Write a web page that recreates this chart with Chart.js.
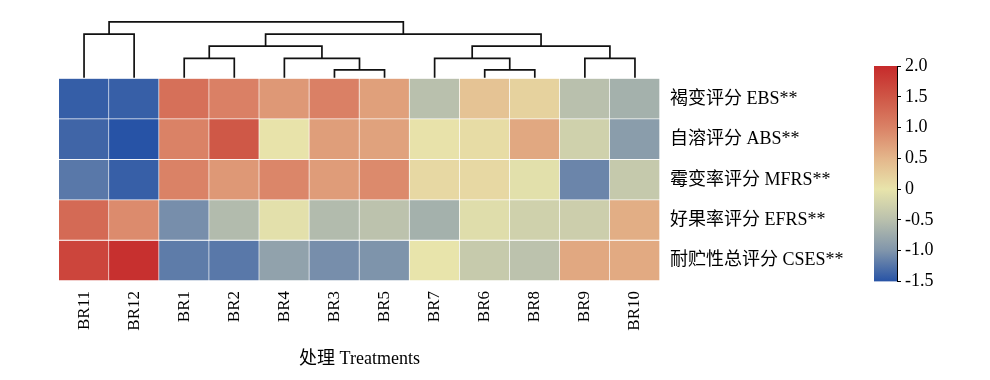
<!DOCTYPE html>
<html>
<head>
<meta charset="utf-8">
<script src="https://cdn.jsdelivr.net/npm/chart.js@4/dist/chart.umd.min.js"></script>
<style>
  html, body { margin: 0; padding: 0; background: #fff; }
  #wrap { position: relative; width: 990px; height: 380px; }
  #main { position: absolute; left: 0; top: 0; }
  #bar { position: absolute; left: 860px; top: 0; }
</style>
</head>
<body>
<div id="wrap">
  <canvas id="main" width="860" height="380"></canvas>
  <canvas id="bar" width="130" height="380"></canvas>
</div>
<script>
// ---- data ----
const columns = ['BR11', 'BR12', 'BR1', 'BR2', 'BR4', 'BR3', 'BR5', 'BR7', 'BR6', 'BR8', 'BR9', 'BR10'];
const rowNames = ['褐变评分 EBS**', '自溶评分 ABS**', '霉变率评分 MFRS**', '好果率评分 EFRS**', '耐贮性总评分 CSES**'];
const EBS  = [-1.42, -1.41, 1.20, 1.02, 0.79, 1.02, 0.71, -0.50, 0.36, 0.20, -0.50, -0.68];
const ABS  = [-1.36, -1.50, 1.00, 1.48, 0.01, 0.73, 0.69, 0.02, 0.09, 0.63, -0.27, -0.91];
const MFRS = [-1.22, -1.41, 1.00, 0.79, 0.96, 0.75, 0.92, 0.13, 0.13, -0.06, -1.12, -0.37];
const EFRS = [1.27, 0.91, -1.05, -0.56, -0.05, -0.56, -0.47, -0.68, -0.10, -0.27, -0.30, 0.58];
const CSES = [1.69, 1.93, -1.19, -1.22, -0.85, -1.05, -1.01, 0.00, -0.36, -0.47, 0.63, 0.62];
const rows = [EBS, ABS, MFRS, EFRS, CSES];
// dendrogram merges: [left child, right child, height]; child = leaf name or earlier merge index
const merges = [
  ['BR3', 'BR5', 7.7],
  ['BR6', 'BR8', 7.7],
  ['BR1', 'BR2', 19.3],
  ['BR4', 0, 19.3],
  ['BR7', 1, 19.3],
  ['BR9', 'BR10', 19.3],
  [2, 3, 31.5],
  [4, 5, 31.5],
  ['BR11', 'BR12', 43.7],
  [6, 7, 43.7],
  [8, 9, 56.0]
];
const colorbarTicks = [2.0, 1.5, 1.0, 0.5, 0, -0.5, -1.0, -1.5];
const colorStops = [
  [-1.5, '#2753a6'], [-1.0, '#8095ab'], [-0.5, '#b9c0ad'], [0.0, '#e8e4ab'],
  [0.5, '#e4b68b'], [1.0, '#da8266'], [1.5, '#cf5646'], [2.0, '#c62a2b']
];
const vMin = -1.5, vMax = 2.0;

// ---- helpers ----
function hex(c) { return [1, 3, 5].map(i => parseInt(c.substr(i, 2), 16)); }
function colorFor(v) {
  v = Math.max(vMin, Math.min(vMax, v));
  for (let i = 0; i < colorStops.length - 1; i++) {
    const [a, ca] = colorStops[i], [b, cb] = colorStops[i + 1];
    if (v >= a && v <= b) {
      const t = (v - a) / (b - a);
      const A = hex(ca), B = hex(cb);
      const m = A.map((x, k) => Math.round(x + (B[k] - x) * t));
      return 'rgb(' + m.join(',') + ')';
    }
  }
  return colorStops[colorStops.length - 1][1];
}

const FONT = "'Liberation Serif', 'Noto Sans CJK SC', serif";
Chart.defaults.color = '#000';
Chart.defaults.font.family = FONT;

// heatmap datasets
const datasets = rows.map((vals, r) => ({
  type: 'bar',
  label: rowNames[r],
  yAxisID: 'y',
  data: vals.map((v, i) => ({ x: i, y: [r, r + 1] })),
  backgroundColor: vals.map(colorFor),
  borderColor: 'rgba(255,255,255,0.85)',
  borderWidth: { top: 0, left: 0, right: 1, bottom: 1 },
  borderSkipped: false,
  barPercentage: 1,
  categoryPercentage: 1,
  grouped: false,
  order: 2
}));

// dendrogram datasets
const mPos = [];
function childPos(c) { return typeof c === 'string' ? columns.indexOf(c) : mPos[c]; }
function childH(c) { return typeof c === 'string' ? 0 : merges[c][2]; }
merges.forEach(([a, b, h], k) => {
  const xa = childPos(a), xb = childPos(b);
  mPos[k] = (xa + xb) / 2;
  datasets.push({
    type: 'line',
    yAxisID: 'yd',
    data: [{ x: xa, y: childH(a) }, { x: xa, y: h }, { x: xb, y: h }, { x: xb, y: childH(b) }],
    borderColor: '#111',
    borderWidth: 1.7,
    pointRadius: 0,
    tension: 0,
    fill: false,
    clip: false,
    order: 1
  });
});

new Chart(document.getElementById('main'), {
  type: 'bar',
  data: { datasets },
  options: {
    responsive: false,
    animation: false,
    devicePixelRatio: 1,
    layout: { padding: { left: 59, top: 20, right: 0, bottom: 0 } },
    plugins: { legend: { display: false }, tooltip: { enabled: false } },
    scales: {
      yd: {
        type: 'linear', position: 'right', stack: 'rows', stackWeight: 58, weight: 0,
        min: -1, max: 57, display: false
      },
      y: {
        type: 'linear', position: 'right', stack: 'rows', stackWeight: 203, weight: 1,
        min: 0, max: 5, reverse: true,
        grid: { display: false, drawTicks: false },
        border: { display: false },
        afterBuildTicks: s => { s.ticks = rowNames.map((_, i) => ({ value: i + 0.5 })); },
        afterFit: s => { s.width = 200; },
        ticks: {
          padding: 10,
          font: { size: 18, family: FONT },
          color: '#000',
          callback: v => rowNames[Math.floor(v)]
        }
      },
      x: {
        type: 'linear', position: 'bottom', min: -0.5, max: 11.5, offset: false,
        grid: { display: false, drawTicks: false },
        border: { display: false },
        afterBuildTicks: s => { s.ticks = columns.map((_, i) => ({ value: i })); },
        afterFit: s => { s.height = 99; },
        ticks: {
          autoSkip: false, maxRotation: 90, minRotation: 90, padding: 10,
          font: { size: 17, family: FONT }, color: '#000',
          callback: v => columns[v]
        },
        title: {
          display: true, text: '处理 Treatments',
          font: { size: 18, family: FONT }, color: '#000',
          padding: { top: 0, bottom: 10 }
        }
      }
    }
  }
});

// colour bar
new Chart(document.getElementById('bar'), {
  type: 'bar',
  data: {
    labels: [''],
    datasets: [{
      data: [[vMin, vMax]],
      barPercentage: 1, categoryPercentage: 1, borderWidth: 0,
      backgroundColor: ctx => {
        const chart = ctx.chart;
        if (!chart.chartArea) return null;
        const ys = chart.scales.y;
        const g = chart.ctx.createLinearGradient(0, ys.getPixelForValue(vMin), 0, ys.getPixelForValue(vMax));
        colorStops.forEach(([v, c]) => g.addColorStop((v - vMin) / (vMax - vMin), c));
        return g;
      }
    }]
  },
  options: {
    responsive: false,
    animation: false,
    devicePixelRatio: 1,
    layout: { padding: { left: 14, top: 66, right: 0, bottom: 98.5 } },
    plugins: { legend: { display: false }, tooltip: { enabled: false } },
    scales: {
      x: { display: false, offset: true },
      y: {
        position: 'right', min: vMin, max: vMax,
        afterBuildTicks: s => { s.ticks = colorbarTicks.map(v => ({ value: v })); },
        afterFit: s => { s.width = 93; },
        grid: { drawOnChartArea: false, drawTicks: true, tickLength: 4, color: '#000', lineWidth: 1 },
        border: { display: true, color: '#000', width: 1 },
        ticks: {
          padding: 4,
          font: { size: 18, family: FONT }, color: '#000',
          callback: v => (v === 0 ? '0' : v.toFixed(1))
        }
      }
    }
  }
});
</script>
</body>
</html>
